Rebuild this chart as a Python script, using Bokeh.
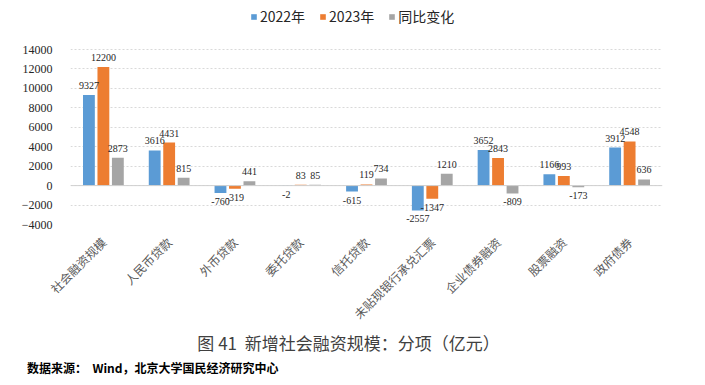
from bokeh.plotting import figure
from bokeh.models import (ColumnDataSource, FactorRange, Range1d, LabelSet, Div,
                          Legend, LegendItem, Span, FixedTicker)
from bokeh.layouts import column
from bokeh.transform import dodge
from bokeh.core.properties import value
from bokeh.embed import file_html
from bokeh.resources import INLINE
import math

categories = ["社会融资规模", "人民币贷款", "外币贷款", "委托贷款", "信托贷款",
              "未贴现银行承兑汇票", "企业债券融资", "股票融资", "政府债券"]
v2022 = [9327, 3616, -760, -2, -615, -2557, 3652, 1166, 3912]
v2023 = [12200, 4431, -319, 83, 119, -1347, 2843, 993, 4548]
yoy = [2873, 815, 441, 85, 734, 1210, -809, -173, 636]
series_names = ["2022年", "2023年", "同比变化"]
colors = ["#5B9BD5", "#ED7D31", "#A5A5A5"]
y_ticks = [-4000, -2000, 0, 2000, 4000, 6000, 8000, 10000, 12000, 14000]
title_text = "图 41&nbsp;&nbsp;新增社会融资规模：分项（亿元）"
source_text = "数据来源：&nbsp;&nbsp;Wind，北京大学国民经济研究中心"

offsets = [-0.22, 0.0, 0.22]
series = [v2022, v2023, yoy]

W, H = 697, 332
BL, BT, BR, BB = 70, 0, 35, 108
# plot area proper: 14000 at y=49px, -4000 at y=224px; frame extends above to hold the legend
y_lo, y_top_tick = -4000, 14000
px_per_unit = (224 - 49) / (y_top_tick - y_lo)
frame_h = H - BT - BB
y_hi = y_lo + frame_h / px_per_unit

p = figure(width=W, height=H,
           x_range=FactorRange(*categories, range_padding=0),
           y_range=Range1d(y_lo, y_hi),
           output_backend="svg", toolbar_location=None,
           min_border_left=BL, min_border_right=BR,
           min_border_top=BT, min_border_bottom=BB)
p.outline_line_color = None
p.xgrid.grid_line_color = None
p.ygrid.grid_line_color = "#D9D9D9"
p.ygrid.grid_line_dash = "2 2"
p.ygrid.ticker = FixedTicker(ticks=y_ticks)

src = ColumnDataSource(dict(cat=categories, v2022=v2022, v2023=v2023, yoy=yoy))
renderers = []
for i, key in enumerate(["v2022", "v2023", "yoy"]):
    r = p.vbar(x=dodge("cat", offsets[i], range=p.x_range), top=key, bottom=0,
               width=0.18, source=src, fill_color=colors[i], line_color=None)
    renderers.append(r)

p.add_layout(Span(location=0, dimension="width", line_color="#D0D0D0", line_width=1))

# data labels
pos = dict(cat=[], off=[], y=[], t=[])
neg = dict(cat=[], off=[], y=[], t=[])
for i, vals in enumerate(series):
    for c, v in zip(categories, vals):
        d = pos if v >= 0 else neg
        d["cat"].append(c)
        d["off"].append(offsets[i])
        d["y"].append(v)
        d["t"].append(str(v))
for d, yo, base in [(pos, 6, "bottom"), (neg, -5, "top")]:
    for i in range(3):
        sub = {k: [d[k][j] for j in range(len(d["cat"])) if d["off"][j] == offsets[i]] for k in d}
        s = ColumnDataSource(sub)
        ls = LabelSet(x=dodge("cat", offsets[i], range=p.x_range), y="y", text="t", source=s,
                      y_offset=yo, text_align="center", text_baseline=base,
                      text_font=value("Liberation Serif"), text_font_size="10px",
                      text_color="#262626")
        p.add_layout(ls)

# axes
p.yaxis.ticker = FixedTicker(ticks=y_ticks)
p.yaxis.axis_line_color = None
p.yaxis.major_tick_line_color = None
p.yaxis.minor_tick_line_color = None
p.yaxis.major_label_standoff = 12
p.yaxis.major_label_text_font = "Liberation Serif"
p.yaxis.major_label_text_font_size = "12px"
p.yaxis.major_label_text_color = "#262626"

p.xaxis.axis_line_color = None
p.xaxis.major_tick_line_color = None
p.xaxis.minor_tick_line_color = None
p.xaxis.major_label_orientation = math.pi / 4
p.xaxis.major_label_standoff = 9
p.xaxis.major_label_text_font = "Noto Sans CJK SC"
p.xaxis.major_label_text_font_size = "12px"
p.xaxis.major_label_text_color = "#595959"

legend = Legend(items=[LegendItem(label=series_names[i], renderers=[renderers[i]]) for i in range(3)],
                orientation="horizontal", location=(180, 224 - 26),
                border_line_color=None, background_fill_alpha=0,
                padding=0, margin=0, spacing=14, label_standoff=3,
                glyph_width=7, glyph_height=7, label_height=14,
                label_text_font="Noto Sans CJK SC", label_text_font_size="14px",
                label_text_color="#262626")
p.add_layout(legend)

title_div = Div(text=title_text, width=W, height=20, margin=(1, 0, 0, 0),
                styles={"text-align": "center", "font-family": "Noto Sans CJK SC",
                        "font-size": "17px", "line-height": "20px", "color": "#404040"})
source_div = Div(text=source_text, width=W, height=14, margin=(8, 0, 0, 27),
                 styles={"font-family": "Noto Sans CJK SC", "font-size": "12px",
                         "font-weight": "bold", "line-height": "14px", "color": "#000000"})

layout = column(p, title_div, source_div, spacing=0)

open("out.html", "w").write(file_html(layout, INLINE))
